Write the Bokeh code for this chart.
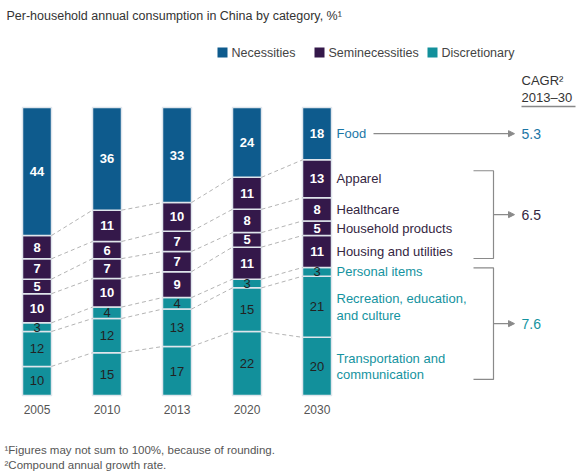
from bokeh.plotting import figure
from bokeh.models import ColumnDataSource, Arrow, NormalHead, Range1d
from bokeh.core.properties import value
from bokeh.embed import file_html
from bokeh.resources import INLINE

# ---------------- data ----------------
years = ["2005", "2010", "2013", "2020", "2030"]
transport = [10, 15, 17, 22, 20]
recreation = [12, 12, 13, 15, 21]
personal = [3, 4, 4, 3, 3]
housing = [10, 10, 9, 11, 11]
household = [5, 7, 7, 5, 5]
healthcare = [7, 6, 7, 8, 8]
apparel = [8, 11, 10, 11, 13]
food = [44, 36, 33, 24, 18]
category_labels = ["Transportation and\ncommunication", "Recreation, education,\nand culture",
                   "Personal items", "Housing and utilities", "Household products",
                   "Healthcare", "Apparel", "Food"]
category_groups = ["Discretionary", "Discretionary", "Discretionary",
                   "Seminecessities", "Seminecessities", "Seminecessities", "Seminecessities",
                   "Necessities"]
legend_groups = ["Necessities", "Seminecessities", "Discretionary"]
cagr_values = ["5.3", "6.5", "7.6"]  # Necessities, Seminecessities, Discretionary

series = [transport, recreation, personal, housing, household, healthcare, apparel, food]

# ---------------- style ----------------
FONT = "Liberation Sans"
fill = {"Necessities": "#0e5b8d", "Seminecessities": "#34184a", "Discretionary": "#12909b"}
label_col = {"Necessities": "#1b76a6", "Seminecessities": "#34263f", "Discretionary": "#1493a0"}

PX_PER_PCT = 2.88
BAR_BASE_PY = 395.0
SLOT = 70.0
FIRST_X = 36.5
W, H = 580, 474

def X(px):
    return (px - FIRST_X) / SLOT

def Y(py):
    return (BAR_BASE_PY - py) / PX_PER_PCT

bar_w = 29.0 / SLOT

p = figure(width=W, height=H, output_backend="svg", toolbar_location=None,
           x_range=Range1d(X(0), X(W)), y_range=Range1d(Y(H), Y(0)),
           x_axis_location=None, y_axis_location=None, min_border=0,
           outline_line_color=None, background_fill_color="white",
           border_fill_color="white")
p.grid.visible = False

# normalised cumulative stacks
n = len(years)
totals = [sum(s[i] for s in series) for i in range(n)]
cum = []  # cum[i][k] boundary k for bar i (k=0..8)
for i in range(n):
    c = [0.0]
    for s in series:
        c.append(c[-1] + s[i] * 100.0 / totals[i])
    cum.append(c)

# bars
for k, s in enumerate(series):
    src = ColumnDataSource(dict(x=list(range(n)),
                                bottom=[cum[i][k] for i in range(n)],
                                top=[cum[i][k + 1] for i in range(n)]))
    p.vbar(x="x", bottom="bottom", top="top", width=bar_w, source=src,
           fill_color=fill[category_groups[k]], line_color="#dfe5ec", line_width=1.5)

# dashed connectors
x0s, y0s, x1s, y1s = [], [], [], []
for i in range(n - 1):
    for k in range(1, len(series)):
        x0s.append(i + bar_w / 2)
        y0s.append(cum[i][k])
        x1s.append(i + 1 - bar_w / 2)
        y1s.append(cum[i + 1][k])
p.segment(x0=x0s, y0=y0s, x1=x1s, y1=y1s, line_color="#b4b4b4", line_width=1,
          line_dash="4 3")

# value labels
wx, wy, wt, dx, dy, dt = [], [], [], [], [], []
for k, s in enumerate(series):
    for i in range(n):
        mid = (cum[i][k] + cum[i][k + 1]) / 2
        if category_groups[k] == "Discretionary":
            dx.append(i); dy.append(mid); dt.append(str(s[i]))
        else:
            wx.append(i); wy.append(mid); wt.append(str(s[i]))
p.text(x=wx, y=wy, text=wt, text_color="white", text_font=value(FONT),
       text_font_style="bold", text_font_size="13px", text_align="center",
       text_baseline="middle")
p.text(x=dx, y=dy, text=dt, text_color="#222222", text_font=value(FONT),
       text_font_size="13px", text_align="center", text_baseline="middle")

# year labels
p.text(x=list(range(n)), y=[Y(409)] * n, text=years, text_color="#555555",
       text_font=value(FONT), text_font_size="12px", text_align="center",
       text_baseline="middle")

# category labels to the right of the last bar
last = n - 1
cx = X(336)
for k, lab in enumerate(category_labels):
    mid = (cum[last][k] + cum[last][k + 1]) / 2
    p.text(x=[cx], y=[mid], text=[lab], text_color=label_col[category_groups[k]],
           text_font=value(FONT), text_font_size="13px", text_align="left",
           text_baseline="middle", text_line_height=1.12)

def mid_of(k):
    return (cum[last][k] + cum[last][k + 1]) / 2

# Food arrow
food_y = mid_of(7)
p.add_layout(Arrow(x_start=X(373), y_start=food_y, x_end=X(514), y_end=food_y,
                   line_color="#8a8a8a", line_width=1.2,
                   end=NormalHead(size=6, fill_color="#8a8a8a", line_color="#8a8a8a")))
p.text(x=[X(521)], y=[food_y], text=[cagr_values[0]], text_color=label_col["Necessities"],
       text_font=value(FONT), text_font_size="14px", text_align="left", text_baseline="middle")

# brackets
def bracket(y_top, y_bot, label, color):
    p.line(x=[X(473), X(493), X(493), X(473)], y=[y_top, y_top, y_bot, y_bot],
           line_color="#8a8a8a", line_width=1.2)
    ym = (y_top + y_bot) / 2
    p.add_layout(Arrow(x_start=X(493), y_start=ym, x_end=X(514), y_end=ym,
                       line_color="#8a8a8a", line_width=1.2,
                       end=NormalHead(size=6, fill_color="#8a8a8a", line_color="#8a8a8a")))
    p.text(x=[X(521)], y=[ym], text=[label], text_color=color, text_font=value(FONT),
           text_font_size="14px", text_align="left", text_baseline="middle")

bracket(mid_of(6) + 8 / PX_PER_PCT, mid_of(3) - 7 / PX_PER_PCT, cagr_values[1],
        label_col["Seminecessities"])
bracket(mid_of(2) + 4 / PX_PER_PCT, mid_of(0) - 13 / PX_PER_PCT, cagr_values[2],
        label_col["Discretionary"])

# CAGR header
p.text(x=[X(521)], y=[Y(80)], text=["CAGR²"], text_color="#333333", text_font=value(FONT),
       text_font_size="13px", text_align="left", text_baseline="middle")
p.text(x=[X(521)], y=[Y(97)], text=["2013–30"], text_color="#333333", text_font=value(FONT),
       text_font_size="13px", text_align="left", text_baseline="middle")
p.line(x=[X(521), X(575)], y=[Y(106), Y(106)], line_color="#888888", line_width=1.5)

# title
p.text(x=[X(6)], y=[Y(15)], text=["Per-household annual consumption in China by category, %¹"],
       text_color="#333333", text_font=value(FONT), text_font_size="12.5px",
       text_align="left", text_baseline="middle")

# legend
leg_x = [217, 314, 427]
for g, lx in zip(legend_groups, leg_x):
    p.scatter(x=[X(lx + 5)], y=[Y(52)], marker="square", size=10,
              fill_color=fill[g], line_color=None)
    p.text(x=[X(lx + 14)], y=[Y(52)], text=[g], text_color="#444444", text_font=value(FONT),
           text_font_size="12.5px", text_align="left", text_baseline="middle")

# footnotes
p.text(x=[X(4)], y=[Y(449)], text=["¹Figures may not sum to 100%, because of rounding."],
       text_color="#555555", text_font=value(FONT), text_font_size="11.5px",
       text_align="left", text_baseline="middle")
p.text(x=[X(4)], y=[Y(464)], text=["²Compound annual growth rate."],
       text_color="#555555", text_font=value(FONT), text_font_size="11.5px",
       text_align="left", text_baseline="middle")

open("out.html", "w").write(file_html(p, INLINE))
